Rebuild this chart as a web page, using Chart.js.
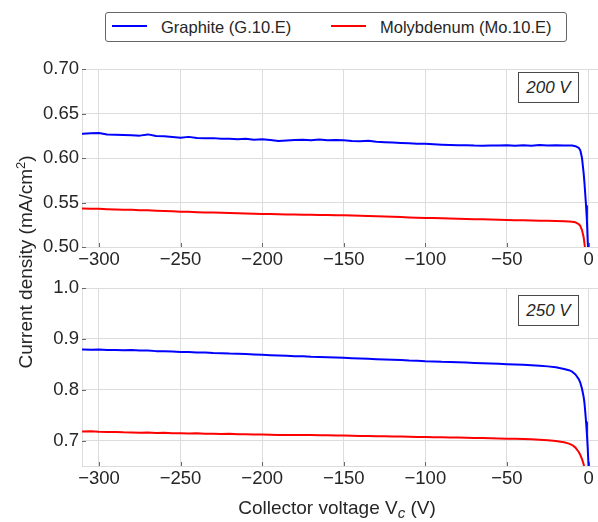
<!DOCTYPE html>
<html>
<head>
<meta charset="utf-8">
<script src="https://cdn.jsdelivr.net/npm/chart.js@4"></script>
<style>
  html, body { margin:0; padding:0; background:#fff; }
  body { width:598px; height:522px; position:relative; overflow:hidden; font-family:"Liberation Sans", Arial, sans-serif; color:#262626; }
  canvas { position:absolute; left:0; }
  .legend { position:absolute; left:105px; top:12px; width:462px; height:30px; box-sizing:border-box; border:1px solid #666; border-radius:3px; background:#fff; }
  .legend .sw { position:absolute; top:12px; width:35px; height:2px; }
  .legend .lt { position:absolute; top:0; line-height:28px; font-size:16.5px; white-space:nowrap; }
  .anno { position:absolute; left:518px; width:61px; height:31px; box-sizing:border-box; border:1px solid #4a4a4a; background:#fff; font-style:italic; font-size:17px; text-align:center; line-height:29px; }
  .xlab { position:absolute; left:137px; width:400px; top:497px; text-align:center; font-size:19px; line-height:22px; white-space:nowrap; }
  .ylab { position:absolute; left:-124px; width:300px; top:250px; height:24px; line-height:24px; text-align:center; font-size:19px; white-space:nowrap; transform:rotate(-90deg); }
</style>
</head>
<body>
<div class="legend">
  <div class="sw" style="left:6px;background:#0000ff"></div>
  <div class="lt" style="left:55px">Graphite (G.10.E)</div>
  <div class="sw" style="left:225px;background:#ff0000"></div>
  <div class="lt" style="left:274px">Molybdenum (Mo.10.E)</div>
</div>
<canvas id="top" width="598" height="220" style="top:55px"></canvas>
<canvas id="bot" width="598" height="220" style="top:274px"></canvas>
<div class="anno" style="top:72px">200 V</div>
<div class="anno" style="top:295px">250 V</div>
<div class="ylab">Current density (mA/cm<sup style="font-size:13px;vertical-align:7px;line-height:0">2</sup>)</div>
<div class="xlab">Collector voltage V<sub style="font-size:15px;font-style:italic;vertical-align:-4px;line-height:0">c</sub> (V)</div>
<script>
// Collector voltage (V)
const voltage = [-310,-305,-300,-295,-290,-285,-280,-275,-270,-265,-260,-255,-250,-245,-240,-235,-230,-225,-220,-215,-210,-205,-200,-195,-190,-185,-180,-175,-170,-165,-160,-155,-150,-145,-140,-135,-130,-125,-120,-115,-110,-105,-100,-95,-90,-85,-80,-75,-70,-65,-60,-55,-50,-45,-40,-35,-30,-25,-20,-15,-12,-10,-8,-6,-5,-4,-3,-2.5,-2,-1.5,-1,-0.5,0];

// Current density (mA/cm^2) — 200 V panel
const graphite200 = [0.6272,0.6278,0.6281,0.6266,0.6262,0.6259,0.6256,0.6252,0.6266,0.6248,0.6246,0.6238,0.6228,0.6238,0.6226,0.6222,0.6224,0.6218,0.6216,0.6210,0.6216,0.6206,0.6212,0.6204,0.6192,0.6196,0.6202,0.6206,0.6201,0.6208,0.6199,0.6203,0.6200,0.6192,0.6188,0.6194,0.6182,0.6178,0.6175,0.6170,0.6166,0.6162,0.6160,0.6155,0.6150,0.6146,0.6144,0.6145,0.6140,0.6138,0.6142,0.6140,0.6144,0.6138,0.6143,0.6139,0.6146,0.6141,0.6144,0.6142,0.6141,0.6140,0.6133,0.6115,0.6085,0.6000,0.5830,0.5720,0.5590,0.5460,0.5300,0.5060,0.4900];
const molybdenum200 = [0.5432,0.5430,0.5429,0.5425,0.5422,0.5420,0.5418,0.5414,0.5412,0.5407,0.5404,0.5401,0.5397,0.5395,0.5392,0.5389,0.5387,0.5384,0.5382,0.5379,0.5377,0.5374,0.5372,0.5370,0.5368,0.5366,0.5364,0.5363,0.5362,0.5361,0.5360,0.5358,0.5357,0.5354,0.5351,0.5348,0.5345,0.5342,0.5339,0.5336,0.5333,0.5330,0.5327,0.5325,0.5322,0.5320,0.5318,0.5316,0.5313,0.5311,0.5309,0.5307,0.5304,0.5302,0.5300,0.5298,0.5296,0.5294,0.5291,0.5289,0.5287,0.5284,0.5278,0.5258,0.5236,0.5190,0.5110,0.5040,0.4960,null,null,null,null];

// Current density (mA/cm^2) — 250 V panel
const graphite250 = [0.8792,0.8788,0.8790,0.8781,0.8784,0.8778,0.8780,0.8770,0.8772,0.8760,0.8758,0.8752,0.8741,0.8744,0.8733,0.8731,0.8722,0.8719,0.8712,0.8709,0.8702,0.8694,0.8688,0.8681,0.8674,0.8668,0.8660,0.8658,0.8650,0.8646,0.8640,0.8634,0.8628,0.8621,0.8616,0.8608,0.8602,0.8596,0.8589,0.8584,0.8575,0.8570,0.8560,0.8558,0.8550,0.8546,0.8540,0.8536,0.8528,0.8522,0.8517,0.8510,0.8503,0.8497,0.8490,0.8481,0.8472,0.8460,0.8441,0.8410,0.8385,0.8355,0.8300,0.8210,0.8135,0.8020,0.7860,0.7740,0.7560,0.7360,0.7130,0.6850,0.6500];
const molybdenum250 = [0.7178,0.7182,0.7174,0.7170,0.7168,0.7162,0.7160,0.7155,0.7158,0.7150,0.7152,0.7146,0.7144,0.7140,0.7142,0.7136,0.7134,0.7130,0.7133,0.7126,0.7124,0.7121,0.7122,0.7116,0.7112,0.7110,0.7108,0.7112,0.7108,0.7104,0.7106,0.7101,0.7100,0.7096,0.7092,0.7090,0.7086,0.7084,0.7082,0.7078,0.7075,0.7072,0.7070,0.7066,0.7064,0.7060,0.7062,0.7056,0.7052,0.7050,0.7047,0.7042,0.7038,0.7034,0.7030,0.7024,0.7018,0.7008,0.6994,0.6968,0.6940,0.6912,0.6862,0.6775,0.6715,0.6635,0.6535,0.6450,null,null,null,null,null];

// Tick labels
const xTicks = [-300,-250,-200,-150,-100,-50,0];
const yTicks200 = [0.50,0.55,0.60,0.65,0.70];
const yTicks250 = [0.7,0.8,0.9,1.0];
const seriesNames = ['Graphite (G.10.E)','Molybdenum (Mo.10.E)'];

const pairs = (xs, ys) => xs.map((x, i) => ({x, y: ys[i]}));
const TXT = '#262626';
const GRID = '#dcdcdc';
const FONT = {family:'"Liberation Sans", Arial, sans-serif', size:18.5};

const inwardTicks = {
  id:'inwardTicks',
  beforeDatasetsDraw(chart){
    const {ctx, chartArea:a, scales:{x, y}} = chart;
    ctx.save();
    ctx.strokeStyle = '#6a6a6a';
    ctx.lineWidth = 1;
    ctx.beginPath();
    x.ticks.forEach(t => { const px = Math.round(x.getPixelForValue(t.value)) + 0.5; ctx.moveTo(px, a.bottom); ctx.lineTo(px, a.bottom - 4); });
    y.ticks.forEach(t => { const py = Math.round(y.getPixelForValue(t.value)) + 0.5; ctx.moveTo(a.left, py); ctx.lineTo(a.left + 4, py); });
    ctx.stroke();
    ctx.restore();
  }
};

function makeChart(id, gData, mData, yMin, yMax, yTicks, digits){
  return new Chart(document.getElementById(id), {
    type:'line',
    data:{
      datasets:[
        {label:seriesNames[0], data:pairs(voltage, gData), borderColor:'#0000ff', borderWidth:2, pointRadius:0, tension:0, fill:false, borderJoinStyle:'round', borderCapStyle:'round'},
        {label:seriesNames[1], data:pairs(voltage, mData), borderColor:'#ff0000', borderWidth:2, pointRadius:0, tension:0, fill:false, borderJoinStyle:'round', borderCapStyle:'round'}
      ]
    },
    options:{
      responsive:false, animation:false, devicePixelRatio:1,
      layout:{padding:{top:10, left:0, right:0, bottom:0}},
      plugins:{legend:{display:false}, tooltip:{enabled:false}},
      scales:{
        x:{
          type:'linear', min:-310.4, max:5.8,
          afterBuildTicks: s => { s.ticks = xTicks.map(v => ({value:v})); },
          afterFit: s => { s.height = 28; },
          grid:{color:GRID, lineWidth:1, drawTicks:false},
          border:{color:GRID},
          ticks:{font:FONT, color:TXT, padding:2, maxRotation:0, autoSkip:false,
                 callback: v => String(v).replace('-', '\u2212')}
        },
        y:{
          type:'linear', min:yMin, max:yMax,
          afterBuildTicks: s => { s.ticks = yTicks.map(v => ({value:v})); },
          afterFit: s => { s.width = 82; },
          grid:{color:GRID, lineWidth:1, drawTicks:false},
          border:{color:GRID},
          ticks:{font:FONT, color:TXT, padding:3, autoSkip:false,
                 callback: v => Number(v).toFixed(digits)}
        }
      }
    },
    plugins:[inwardTicks]
  });
}

makeChart('top', graphite200, molybdenum200, 0.5, 0.7, yTicks200, 2);
makeChart('bot', graphite250, molybdenum250, 0.65, 1.0, yTicks250, 1);
</script>
</body>
</html>
